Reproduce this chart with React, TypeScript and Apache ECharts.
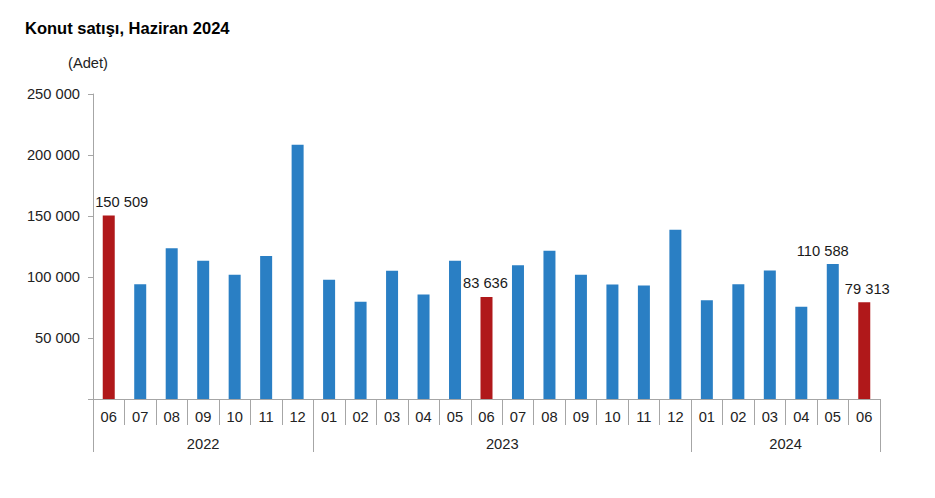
import React, { useEffect, useRef } from "react";
import * as echarts from "echarts";

const months = [
  "06", "07", "08", "09", "10", "11", "12",
  "01", "02", "03", "04", "05", "06", "07", "08", "09", "10", "11", "12",
  "01", "02", "03", "04", "05", "06",
];
const sales = [
  150509, 94097, 123623, 113383, 101816, 117251, 208323,
  97676, 79737, 105102, 85652, 113276, 83636, 109548, 121519, 101921, 93930, 92996, 138716,
  81015, 94048, 105394, 75569, 110588, 79313,
];
const highlighted = [0, 12, 24];
const labeled = [0, 12, 23, 24];
const years = ["2022", "2023", "2024"];
const yearMonthCounts = [7, 12, 6];
const yTicks = [0, 50000, 100000, 150000, 200000, 250000];

const fmt = (v: number) => String(v).replace(/\B(?=(\d{3})+(?!\d))/g, " ");

export default function App() {
  const ref = useRef<HTMLDivElement>(null);
  useEffect(() => {
    if (!ref.current) return;
    const chart = echarts.init(ref.current, undefined, { renderer: "svg" });

    // half-month point axis for year labels and year separators
    const halfPoints: string[] = new Array(sales.length * 2 + 1).fill("");
    const boundaries: number[] = [0];
    let acc = 0;
    years.forEach((y, i) => {
      halfPoints[acc * 2 + yearMonthCounts[i]] = y;
      acc += yearMonthCounts[i];
      boundaries.push(acc * 2);
    });

    const font = "'Liberation Sans', Arial, sans-serif";
    const axisColor = "#a6a6a6";
    const fs = 14.7;
    const txt = "#222";
    const labelOffsets: Record<number, number[]> = { 0: [13, 0], 12: [-1, 0], 23: [-10, 0], 24: [3, 0] };

    chart.setOption({
      animation: false,
      title: {
        text: "Konut satışı, Haziran 2024",
        left: 25,
        top: 19,
        padding: 0,
        textStyle: { fontFamily: font, fontSize: 16.5, fontWeight: "bold", color: "#000" },
      },
      grid: { left: 93, right: 55, top: 94, bottom: 99, containLabel: false },
      xAxis: [
        {
          type: "category",
          data: months,
          position: "bottom",
          axisLine: { show: true, lineStyle: { color: axisColor } },
          axisTick: { show: true, length: 26, interval: 0, lineStyle: { color: axisColor } },
          axisLabel: { interval: 0, margin: 10, fontFamily: font, fontSize: fs, color: txt },
        },
        {
          type: "category",
          data: halfPoints,
          position: "bottom",
          boundaryGap: false,
          axisLine: { show: false },
          axisTick: {
            show: true,
            length: 53,
            interval: (index: number) => boundaries.includes(index),
            lineStyle: { color: axisColor },
          },
          axisLabel: { interval: 0, margin: 37, fontFamily: font, fontSize: fs, color: txt },
        },
      ],
      yAxis: {
        type: "value",
        min: yTicks[0],
        max: yTicks[yTicks.length - 1],
        interval: yTicks[1] - yTicks[0],
        name: "(Adet)",
        nameLocation: "end",
        nameGap: 24,
        nameTextStyle: { fontFamily: font, fontSize: fs, color: txt, padding: [0, 10, 0, 0] },
        axisLine: { show: true, lineStyle: { color: axisColor } },
        axisTick: { show: true, length: 5, lineStyle: { color: axisColor } },
        splitLine: { show: false },
        axisLabel: {
          margin: 13,
          fontFamily: font,
          fontSize: fs,
          color: txt,
          formatter: (v: number) => (v === 0 ? "" : fmt(v)),
        },
      },
      series: [
        {
          type: "bar",
          xAxisIndex: 0,
          barWidth: 12,
          data: sales.map((v, i) => ({
            value: v,
            itemStyle: { color: highlighted.includes(i) ? "#b0181a" : "#2a7fc4" },
            label: {
              show: labeled.includes(i),
              position: "top",
              distance: 6,
              offset: labelOffsets[i] || [0, 0],
              formatter: (p: any) => fmt(p.value),
              fontFamily: font,
              fontSize: fs,
              color: "#1a1a1a",
            },
          })),
        },
      ],
    });
    return () => chart.dispose();
  }, []);
  return (
    <div
      ref={ref}
      style={{ position: "absolute", left: 0, top: 0, width: 935, height: 498 }}
    />
  );
}
